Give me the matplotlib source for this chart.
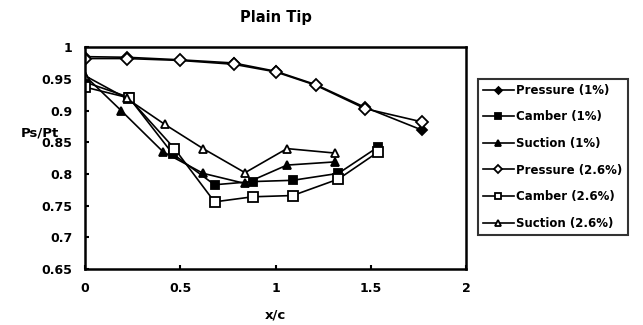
import numpy as np
import matplotlib
matplotlib.use('Agg')
from matplotlib import pyplot as plt

# series
x_press1 = [0.0, 0.22, 0.50, 0.78, 1.00, 1.21, 1.47, 1.77]
y_press1 = [0.985, 0.984, 0.980, 0.975, 0.962, 0.941, 0.905, 0.869]
x_camb1 = [0.0, 0.23, 0.46, 0.68, 0.88, 1.09, 1.33, 1.54]
y_camb1 = [0.945, 0.921, 0.832, 0.783, 0.788, 0.790, 0.801, 0.843]
x_sect1 = [0.0, 0.19, 0.41, 0.62, 0.84, 1.06, 1.31]
y_sect1 = [0.955, 0.900, 0.835, 0.801, 0.785, 0.814, 0.819]
x_press26 = [0.0, 0.22, 0.50, 0.78, 1.00, 1.21, 1.47, 1.77]
y_press26 = [0.982, 0.982, 0.979, 0.973, 0.961, 0.940, 0.903, 0.882]
x_camb26 = [0.0, 0.23, 0.47, 0.68, 0.88, 1.09, 1.33, 1.54]
y_camb26 = [0.937, 0.920, 0.840, 0.756, 0.764, 0.766, 0.792, 0.835]
x_sect26 = [0.0, 0.22, 0.42, 0.62, 0.84, 1.06, 1.31]
y_sect26 = [0.955, 0.919, 0.878, 0.840, 0.802, 0.840, 0.833]

labels = ['Pressure (1%)', 'Camber (1%)', 'Suction (1%)',
          'Pressure (2.6%)', 'Camber (2.6%)', 'Suction (2.6%)']

plt.rcParams['font.family'] = 'DejaVu Sans'
plt.rcParams['font.weight'] = 'bold'

fig = plt.figure(figsize=(6.43, 3.25), dpi=100)
ax = fig.add_axes([0.132, 0.172, 0.593, 0.683])

series = [(x_press1, y_press1, 'D', 'k', 5),
          (x_camb1, y_camb1, 's', 'k', 6),
          (x_sect1, y_sect1, '^', 'k', 6),
          (x_press26, y_press26, 'D', 'white', 6),
          (x_camb26, y_camb26, 's', 'white', 7),
          (x_sect26, y_sect26, '^', 'white', 6)]
for (xs, ys, mk, fc, ms), lab in zip(series, labels):
    ax.plot(xs, ys, color='k', lw=1.2, marker=mk, mfc=fc, mec='k',
            mew=1.3, ms=ms, label=lab)

ax.set_xlim(0, 2)
ax.set_ylim(0.65, 1.0)
ax.set_xticks([0, 0.5, 1, 1.5, 2])
ax.set_xticklabels(['0', '0.5', '1', '1.5', '2'])
ax.set_yticks(np.arange(0.65, 1.001, 0.05))
ax.set_yticklabels(['0.65', '0.7', '0.75', '0.8', '0.85', '0.9', '0.95', '1'])
ax.tick_params(direction='in', length=3, width=1.5, labelsize=9, pad=9)
for lab in ax.get_xticklabels() + ax.get_yticklabels():
    lab.set_fontweight('bold')
for sp in ax.spines.values():
    sp.set_linewidth(1.8)

ax.set_title('Plain Tip', fontsize=10.5, fontweight='bold', pad=18)
ax.set_xlabel('x/c', fontsize=9.5, fontweight='bold', labelpad=10)
ax.set_ylabel('Ps/Pt', fontsize=9.5, fontweight='bold', rotation=0, va='center')
ax.yaxis.set_label_coords(-0.118, 0.615)

leg = ax.legend(loc='upper left', bbox_to_anchor=(1.015, 0.885),
                frameon=True, fancybox=False, edgecolor='k', handlelength=2.6,
                handletextpad=0.2, borderpad=0.45, labelspacing=1.15,
                markerscale=0.7, prop={'weight': 'bold', 'size': 8.5})
leg.get_frame().set_linewidth(1.5)

fig.savefig('out.png', dpi=100)
